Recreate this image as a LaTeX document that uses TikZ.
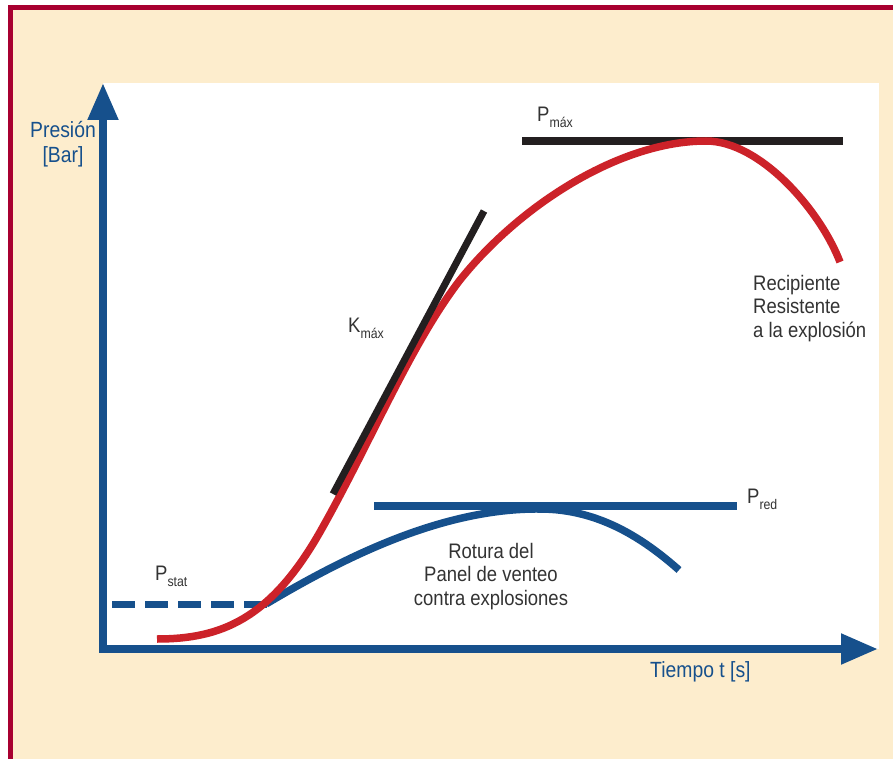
\documentclass[tikz,border=0pt]{standalone}
\usepackage{fontspec}
\setmainfont[FakeStretch=0.88]{Liberation Sans}
\definecolor{framered}{RGB}{168, 0, 48}
\definecolor{beigebg}{RGB}{253, 237, 205}
\definecolor{axisblue}{RGB}{22, 80, 140}
\definecolor{curvered}{RGB}{204, 34, 41}
\definecolor{lineblack}{RGB}{35, 31, 32}
\definecolor{labelgray}{RGB}{51, 51, 51}
\usetikzlibrary{arrows.meta}
\newcommand{\psub}[2]{#1\raisebox{-6pt}{\fontsize{14}{14}\selectfont #2}}

\begin{document}
\begin{tikzpicture}[x=1pt, y=-1pt,
  lbl/.style={inner sep=0pt, text=labelgray, font=\fontsize{21}{23.5}\selectfont},
  axlbl/.style={inner sep=0pt, text=axisblue, font=\fontsize{22}{25}\selectfont},
  axisarrow/.style={axisblue, line width=8pt, line join=miter,
    {Triangle[length=37pt, width=29pt]}-{Triangle[length=37pt, width=29pt]}},
  levelline/.style={line width=7.5pt},
  curve/.style={line width=7.5pt}]
  \useasboundingbox (0,0) rectangle (893,759);

  % frame and plot area
  \fill[beigebg] (10,7) rectangle (893,759);
  \draw[framered, line width=5pt] (10.5,759) -- (10.5,7.5) -- (893,7.5);
  \fill[white] (103,83) rectangle (879,649);

  % axes
  \coordinate (ytip) at (103,83);
  \coordinate (xtip) at (878,649);
  \draw[axisarrow] (ytip) |- (xtip);
  \node[axlbl, anchor=north, align=center] (ylabel) at (63,121) {Presión\\{[Bar]}};
  \node[axlbl, anchor=base west] (xlabel) at (650,677) {Tiempo t [s]};

  % P max
  \draw[lineblack, levelline] (522,141) -- (843,141);
  \node[lbl, anchor=base west] (pmax) at (537,122) {\psub{P}{máx}};

  % P stat
  \draw[axisblue, line width=7pt, dash pattern=on 23pt off 10pt] (112,604) -- (268,604);
  \node[lbl, anchor=base west] (pstat) at (155,580) {\psub{P}{stat}};

  % P red
  \draw[axisblue, levelline] (374,506) -- (737,506);
  \node[lbl, anchor=base west] (pred) at (747,503) {\psub{P}{red}};

  % vented vessel
  \coordinate (vstart) at (266,604);
  \coordinate (vtop) at (540,509);
  \coordinate (vend) at (679,570);
  \draw[axisblue, curve] (vstart) .. controls (340,560) and (440,508) .. (vtop)
    .. controls (600,509) and (645,540) .. (vend);
  \node[lbl, anchor=north, align=center] (vented) at (491,543)
    {Rotura del\\Panel de venteo\\contra explosiones};

  % closed vessel
  \coordinate (cstart) at (157,639);
  \coordinate (cturn) at (320,532);
  \coordinate (cmid) at (460,280);
  \coordinate (ctop) at (706,141);
  \coordinate (cend) at (840,262);
  \draw[curvered, curve] (cstart) .. controls (220,639) and (270,620) .. (cturn)
    .. controls (370,444) and (410,345) .. (cmid)
    .. controls (520,205) and (620,141) .. (ctop)
    .. controls (760,141) and (820,210) .. (cend);
  \node[lbl, anchor=north west, align=left] (closed) at (753,275)
    {Recipiente\\Resistente\\a la explosión};

  % K max
  \draw[lineblack, line width=7pt] (333,494) -- (484,211);
  \node[lbl, anchor=base west] (kmax) at (348,332) {\psub{K}{máx}};
\end{tikzpicture}
\end{document}
